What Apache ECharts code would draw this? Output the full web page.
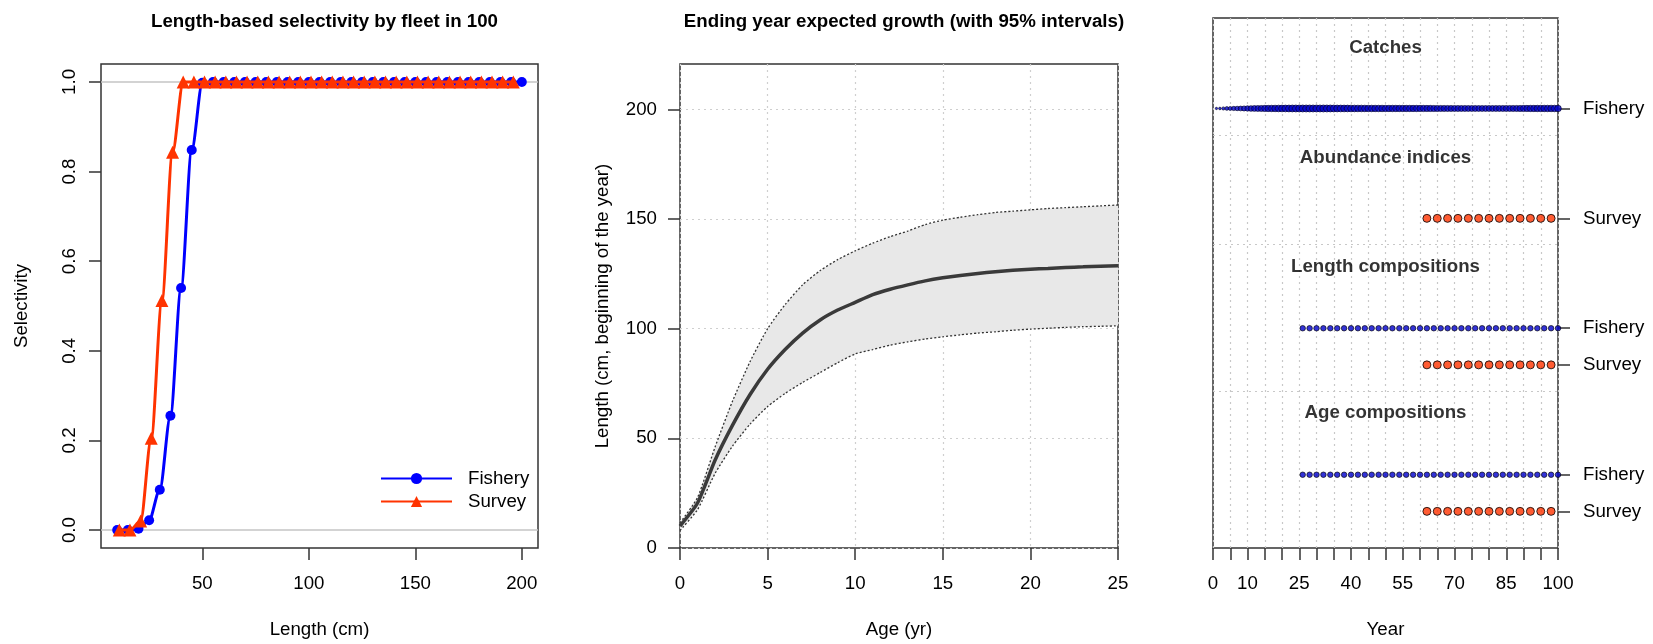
<!DOCTYPE html>
<html><head><meta charset="utf-8">
<script src="https://cdn.jsdelivr.net/npm/echarts@6/dist/echarts.min.js"></script>
<style>html,body{margin:0;padding:0;background:#fff}#c{width:1653px;height:644px}</style>
</head><body><div id="c"></div><script>
// ---------- Panel 1: selectivity ----------
var selLenFishery = [10,15,20,25,30,35,40,45,50,55,60,65,70,75,80,85,90,95,100,105,110,115,120,125,130,135,140,145,150,155,160,165,170,175,180,185,190,195,200];
var selFishery    = [0,0,0.003,0.022,0.09,0.255,0.54,0.848,0.998,1,1,1,1,1,1,1,1,1,1,1,1,1,1,1,1,1,1,1,1,1,1,1,1,1,1,1,1,1,1];
var selLenSurvey  = [11,16,21,26,31,36,41,46,51,56,61,66,71,76,81,86,91,96,101,106,111,116,121,126,131,136,141,146,151,156,161,166,171,176,181,186,191,196];
var selSurvey     = [0,0,0.02,0.205,0.512,0.843,1,1,1,1,1,1,1,1,1,1,1,1,1,1,1,1,1,1,1,1,1,1,1,1,1,1,1,1,1,1,1,1];
var selXTicks = [50,100,150,200];
var selYTicks = [0,0.2,0.4,0.6,0.8,1.0];

// ---------- Panel 2: growth ----------
var ages      = [0,1,2,3,4,5,6,7,8,9,10,11,12,13,14,15,16,17,18,19,20,21,22,23,24,25];
var meanLen   = [10,20.5,40,56,70,81.5,90.5,98,104,108.5,112,115.5,118,120,121.8,123.2,124.3,125.2,126,126.6,127.1,127.5,127.9,128.2,128.5,128.7];
var upperLen  = [11.5,23,46,67,85,100,111,120,126.5,131.5,135.5,139,142,144.5,147.5,149.5,150.8,152,153,153.6,154.2,154.8,155.2,155.6,156,156.4];
var lowerLen  = [8,17.5,34,46.5,56.5,64.5,70.5,75.5,80,84.5,88.5,90.5,92.5,94,95.3,96.3,97.2,98,98.6,99.3,99.8,100.2,100.6,100.9,101.1,101.3];
var growthYTicks = [0,50,100,150,200];

// ---------- Panel 3: data availability ----------
var catchYears = [1,2,3,4,5,6,7,8,9,10,11,12,13,14,15,16,17,18,19,20,21,22,23,24,25,26,27,28,29,30,31,32,33,34,35,36,37,38,39,40,41,42,43,44,45,46,47,48,49,50,51,52,53,54,55,56,57,58,59,60,61,62,63,64,65,66,67,68,69,70,71,72,73,74,75,76,77,78,79,80,81,82,83,84,85,86,87,88,89,90,91,92,93,94,95,96,97,98,99,100];
var catchRel = [0.15,0.2,0.3,0.4,0.45,0.5,0.55,0.6,0.65,0.7,
                0.75,0.78,0.8,0.83,0.86,0.88,0.9,0.92,0.94,0.95,
                0.96,0.97,0.98,0.99,1,1,1,1,1,1,
                1,1,1,0.99,0.98,0.97,0.96,0.95,0.95,0.94,
                0.94,0.93,0.93,0.92,0.92,0.92,0.91,0.91,0.91,0.9,
                0.9,0.9,0.9,0.89,0.89,0.89,0.88,0.88,0.88,0.87,
                0.87,0.86,0.86,0.85,0.85,0.84,0.84,0.83,0.83,0.82,
                0.82,0.81,0.81,0.8,0.8,0.8,0.79,0.79,0.79,0.8,
                0.8,0.8,0.81,0.81,0.82,0.82,0.83,0.84,0.85,0.86,
                0.87,0.88,0.89,0.9,0.9,0.91,0.91,0.92,0.92,0.93];
var fisheryCompYears = [26,28,30,32,34,36,38,40,42,44,46,48,50,52,54,56,58,60,62,64,66,68,70,72,74,76,78,80,82,84,86,88,90,92,94,96,98,100];
var surveyYears = [62,65,68,71,74,77,80,83,86,89,92,95,98];
var rowPositions = [12, 9, 6, 5, 2, 1];
var rowLabels = ['Fishery','Survey','Fishery','Survey','Fishery','Survey'];
var groupTitles = ['Catches','Abundance indices','Length compositions','Age compositions'];
var groupTitleY = [13.65, 10.65, 7.68, 3.7];
var separatorY = [11.28, 8.28, 4.27];
var yearTicks = [0,5,10,15,20,25,30,35,40,45,50,55,60,65,70,75,80,85,90,95,100];
var yearLabels = [0,10,25,40,55,70,85,100];

var FONT = "'Liberation Sans', Arial, Helvetica, sans-serif";
var FS = 18.7;
var TXT = {fontFamily: FONT, fontSize: FS, color: '#000'};
var BOX = '#333';

function pairs(xs, ys){ return xs.map(function(x,i){return [x, ys[i]];}); }
function rowPts(years, row){ return years.map(function(y){return [y, rowPositions[row]];}); }

var chart = echarts.init(document.getElementById('c'), null, {renderer:'canvas'});

var grids = [
  {left:101, top:64, width:437, height:484, show:true, borderColor:BOX, borderWidth:1.5, backgroundColor:'transparent'},
  {left:680, top:64, width:438, height:484, show:true, borderColor:BOX, borderWidth:1.5, backgroundColor:'transparent'},
  {left:1213, top:18, width:345, height:530, show:true, borderColor:BOX, borderWidth:1.5, backgroundColor:'transparent'}
];

var tickStyle = {show:true, inside:false, length:12, lineStyle:{color:BOX, width:1.5}};
var noLine = {show:false, onZero:false};

var xAxes = [
  {gridIndex:0, type:'value', min:2.4, max:207.6,
   axisLine:noLine, splitLine:{show:false},
   axisTick:Object.assign({customValues:selXTicks}, tickStyle),
   axisLabel:Object.assign({customValues:selXTicks, margin:26}, TXT),
   name:'Length (cm)', nameLocation:'middle', nameGap:72, nameTextStyle:TXT},
  {gridIndex:1, type:'value', min:0, max:25, interval:5,
   axisLine:noLine,
   splitLine:{show:true, lineStyle:{color:'#cfcfcf', type:[2,4], width:1.2}},
   axisTick:tickStyle,
   axisLabel:Object.assign({margin:26}, TXT),
   name:'Age (yr)', nameLocation:'middle', nameGap:72, nameTextStyle:TXT},
  {gridIndex:2, type:'value', min:0, max:100, interval:5,
   axisLine:noLine,
   splitLine:{show:true, lineStyle:{color:'#c8c8c8', type:[2,4], width:1.2}},
   axisTick:Object.assign({customValues:yearTicks}, tickStyle),
   axisLabel:Object.assign({customValues:yearLabels, margin:26}, TXT),
   name:'Year', nameLocation:'middle', nameGap:72, nameTextStyle:TXT}
];

var yAxes = [
  {gridIndex:0, type:'value', min:-0.04, max:1.04,
   axisLine:noLine, splitLine:{show:false},
   axisTick:Object.assign({customValues:selYTicks}, tickStyle),
   axisLabel:Object.assign({customValues:selYTicks, margin:22, rotate:90,
     formatter:function(v){return v.toFixed(1);}}, TXT),
   name:'Selectivity', nameLocation:'middle', nameGap:70, nameRotate:90, nameTextStyle:TXT},
  {gridIndex:1, type:'value', min:0, max:220.7, interval:50,
   axisLine:noLine,
   splitLine:{show:true, lineStyle:{color:'#cfcfcf', type:[2,4], width:1.2}},
   axisTick:Object.assign({customValues:growthYTicks}, tickStyle),
   axisLabel:Object.assign({customValues:growthYTicks, margin:23}, TXT),
   name:'Length (cm, beginning of the year)', nameLocation:'middle', nameGap:68, nameRotate:90, nameTextStyle:TXT},
  {gridIndex:2, type:'value', min:0, max:14.47, position:'right',
   axisLine:noLine, splitLine:{show:false},
   axisTick:Object.assign({customValues:rowPositions}, tickStyle),
   axisLabel:Object.assign({customValues:rowPositions, margin:25,
     formatter:function(v){var i=rowPositions.indexOf(v); return i>=0?rowLabels[i]:'';}}, TXT)}
];

var blue = '#0000ff', red = '#ff3300';
var series = [];

// panel 1
series.push({type:'line', name:'Fishery', xAxisIndex:0, yAxisIndex:0, data:pairs(selLenFishery, selFishery),
  smooth:0.3, smoothMonotone:'x', symbol:'circle', symbolSize:10, showAllSymbol:true,
  lineStyle:{color:blue, width:3}, itemStyle:{color:blue, borderColor:blue, borderWidth:0}, z:3,
  markLine:{silent:true, symbol:'none', label:{show:false}, lineStyle:{color:'#c4c4c4', width:1.5, type:'solid'},
    data:[{yAxis:0},{yAxis:1}], z:1}});
series.push({type:'line', name:'Survey', xAxisIndex:0, yAxisIndex:0, data:pairs(selLenSurvey, selSurvey),
  smooth:0.3, smoothMonotone:'x', symbol:'triangle', symbolSize:13, showAllSymbol:true,
  lineStyle:{color:red, width:3}, itemStyle:{color:red, borderColor:red, borderWidth:0}, z:4});

// panel 2: CI band polygon drawn through the axes' scales
series.push({type:'custom', xAxisIndex:1, yAxisIndex:1, silent:true, z:1,
  data:ages.map(function(a,i){return [a, lowerLen[i], upperLen[i]];}),
  encode:{x:0, y:[1,2]},
  renderItem:function(params, api){
    if (params.dataIndex !== 0) return null;
    var pts = [], i;
    for (i = 0; i < ages.length; i++) pts.push(api.coord([ages[i], upperLen[i]]));
    for (i = ages.length - 1; i >= 0; i--) pts.push(api.coord([ages[i], lowerLen[i]]));
    return {type:'polygon', shape:{points:pts}, style:{fill:'#e8e8e8', stroke:null}};
  }});
series.push({type:'line', xAxisIndex:1, yAxisIndex:1, data:pairs(ages, upperLen), symbol:'none', smooth:0.2,
  lineStyle:{color:'#333', width:1.3, type:[2,2]}, z:3});
series.push({type:'line', xAxisIndex:1, yAxisIndex:1, data:pairs(ages, lowerLen), symbol:'none', smooth:0.2,
  lineStyle:{color:'#333', width:1.3, type:[2,2]}, z:3});
series.push({type:'line', xAxisIndex:1, yAxisIndex:1, data:pairs(ages, meanLen), symbol:'none', smooth:0.2,
  lineStyle:{color:'#3a3a3a', width:3.5}, z:4});

// panel 3
series.push({type:'scatter', xAxisIndex:2, yAxisIndex:2,
  data:catchYears.map(function(y,i){return [y, rowPositions[0], catchRel[i]];}),
  symbol:'circle', symbolSize:function(d){return 1.5 + d[2]*5.5;},
  itemStyle:{color:'#0000cc', borderColor:'#000022', borderWidth:0.8}, z:3,
  markLine:{silent:true, symbol:'none', label:{show:false},
    lineStyle:{color:'#c8c8c8', type:[2,4], width:1.2},
    data:separatorY.map(function(v){return {yAxis:v};})}});
series.push({type:'scatter', xAxisIndex:2, yAxisIndex:2, data:rowPts(surveyYears,1), symbol:'circle', symbolSize:8,
  itemStyle:{color:'#ff3300', borderColor:'#000', borderWidth:1}, z:3});
series.push({type:'scatter', xAxisIndex:2, yAxisIndex:2, data:rowPts(fisheryCompYears,2), symbol:'circle', symbolSize:5.5,
  itemStyle:{color:'#0000cc', borderColor:'#000', borderWidth:0.8}, z:3});
series.push({type:'scatter', xAxisIndex:2, yAxisIndex:2, data:rowPts(surveyYears,3), symbol:'circle', symbolSize:8,
  itemStyle:{color:'#ff3300', borderColor:'#000', borderWidth:1}, z:3});
series.push({type:'scatter', xAxisIndex:2, yAxisIndex:2, data:rowPts(fisheryCompYears,4), symbol:'circle', symbolSize:5.5,
  itemStyle:{color:'#0000cc', borderColor:'#000', borderWidth:0.8}, z:3});
series.push({type:'scatter', xAxisIndex:2, yAxisIndex:2, data:rowPts(surveyYears,5), symbol:'circle', symbolSize:8,
  itemStyle:{color:'#ff3300', borderColor:'#000', borderWidth:1}, z:3});
// group titles
series.push({type:'scatter', xAxisIndex:2, yAxisIndex:2, symbolSize:0, silent:true,
  data:groupTitles.map(function(t,i){return {value:[50, groupTitleY[i]], name:t};}),
  label:{show:true, position:'inside', formatter:function(p){return p.name;},
    fontFamily:FONT, fontSize:FS, fontWeight:'bold', color:'#000'}, z:5});

var option = {
  animation:false,
  backgroundColor:'#fff',
  title:[
    {text:'Length-based selectivity by fleet in 100', left:319.5, top:7, textAlign:'center',
     textStyle:{fontFamily:FONT, fontSize:FS, fontWeight:'bold', color:'#000'}},
    {text:'Ending year expected growth (with 95% intervals)', left:899, top:7, textAlign:'center',
     textStyle:{fontFamily:FONT, fontSize:FS, fontWeight:'bold', color:'#000'}}
  ],
  legend:{data:['Fishery','Survey'], orient:'vertical', left:375, top:464, itemWidth:71, itemHeight:14, itemGap:4,
    textStyle:Object.assign({padding:[0,0,0,11]}, TXT)},
  grid:grids, xAxis:xAxes, yAxis:yAxes, series:series
};
chart.setOption(option);
</script></body></html>
